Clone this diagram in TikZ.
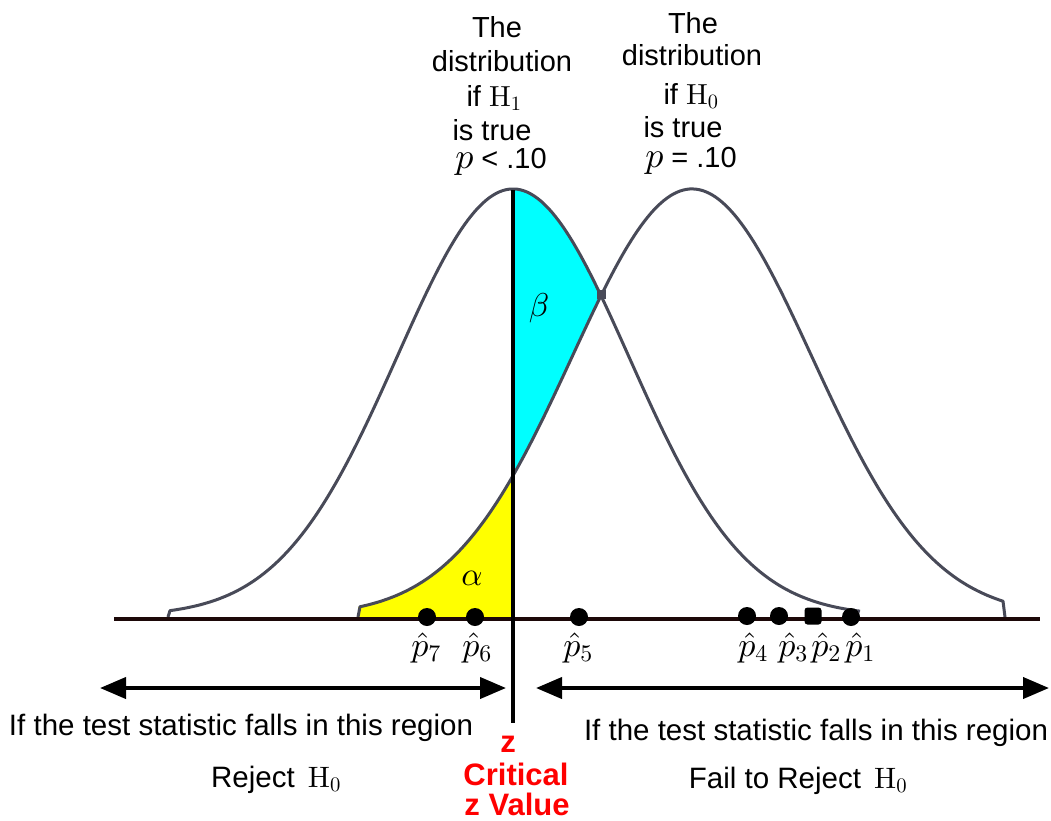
\documentclass[tikz,border=0pt]{standalone}
\usepackage[no-math]{fontspec}
\setmainfont{Liberation Sans}
\DeclareFontShape{OT1}{cmr}{m}{n}{<->cmr10}{}
\DeclareFontShape{OML}{cmm}{m}{it}{<->cmmi10}{}
\DeclareFontShape{OMS}{cmsy}{m}{n}{<->cmsy10}{}
\DeclareFontShape{OMX}{cmex}{m}{n}{<->cmex10}{}
\usetikzlibrary{arrows.meta}
\definecolor{curvecol}{RGB}{72,74,88}
\definecolor{axiscol}{RGB}{28,8,8}
\definecolor{betacol}{RGB}{0,255,255}
\definecolor{alphacol}{RGB}{255,255,0}
\definecolor{zred}{RGB}{255,0,0}
\newcommand{\bigp}{{\fontsize{36}{36}\selectfont$p$}}
\begin{document}
\begin{tikzpicture}[x=1pt,y=-1pt,
  declare function={
    gL(\t)=616-427*exp(-0.5*((\t-513)/116)*((\t-513)/116));
    gR(\t)=616-427*exp(-0.5*((\t-692)/120)*((\t-692)/120));
  },
  curve/.style={draw=curvecol,line width=3pt,line join=round},
  dotc/.style={circle,fill=black,inner sep=0pt,minimum size=18pt},
  dots/.style={rectangle,rounded corners=3pt,fill=black,inner sep=0pt,minimum size=17pt},
  toptxt/.style={anchor=base,inner sep=0pt,font=\fontsize{29}{34}\selectfont},
  bottxt/.style={anchor=base,inner sep=0pt,font=\fontsize{29.5}{34}\selectfont},
  redtxt/.style={anchor=base,inner sep=0pt,text=zred,font=\bfseries\fontsize{31}{34}\selectfont},
  plab/.style={anchor=base,inner sep=0pt,font=\fontsize{34}{36}\selectfont},
  greek/.style={inner sep=0pt,font=\fontsize{33}{34}\selectfont},
  arr/.style={line width=4pt,{Triangle[length=26pt,width=21pt]}-{Triangle[length=26pt,width=21pt]}},
]
\useasboundingbox (0,0) rectangle (1051,820);

% shaded regions
\fill[betacol] plot[domain=513:601,samples=50] (\x,{gL(\x)}) -- plot[domain=601:513,samples=50] (\x,{gR(\x)}) -- cycle;
\fill[alphacol] (358,617) -- plot[domain=358:513,samples=60] (\x,{gR(\x)}) -- (513,617) -- cycle;

% curves
\draw[curve] (168,617) -- plot[domain=170:860,samples=200] (\x,{gL(\x)});
\draw[curve] (358,617) -- plot[domain=360:1003,samples=200] (\x,{gR(\x)}) -- (1005,617);
\fill[curvecol] (596.5,289.5) rectangle (605.5,298.5);

% axis and critical line
\coordinate (axL) at (114,619);
\coordinate (axR) at (1040,619);
\coordinate (vT) at (513,190);
\coordinate (vB) at (513,723);
\draw[axiscol,line width=4pt] (axL) -- (axR);
\draw[black,line width=4pt] (vT) -- (vB);

% greek labels
\node[greek] (alpha) at (472,578) {$\alpha$};
\node[greek] (beta) at (539,308) {$\beta$};

% sample points
\node[dotc] (d7) at (427,617) {};
\node[dotc] (d6) at (475,617) {};
\node[dotc] (d5) at (579,617) {};
\node[dotc] (d4) at (747,616) {};
\node[dotc] (d3) at (779,616) {};
\node[dots] (d2) at (813,616) {};
\node[dotc] (d1) at (851,617) {};

\node[plab] (p7) at (426,656) {$\hat{p}_7$};
\node[plab] (p6) at (477,656) {$\hat{p}_6$};
\node[plab] (p5) at (578,656) {$\hat{p}_5$};
\node[plab] (p4) at (753,656) {$\hat{p}_4$};
\node[plab] (p3) at (793,656) {$\hat{p}_3$};
\node[plab] (p2) at (826,656) {$\hat{p}_2$};
\node[plab] (p1) at (860,656) {$\hat{p}_1$};

% top labels (H1)
\node[toptxt] (l1) at (497,37) {The};
\node[toptxt] (l2) at (502,71) {distribution};
\node[toptxt] (l3) at (494,106) {if $\mathrm{H}_1$};
\node[toptxt] (l4) at (492,140) {is true};
\node[toptxt] (l5) at (501,168) {\bigp{} < .10};
% top labels (H0)
\node[toptxt] (r1) at (693,33) {The};
\node[toptxt] (r2) at (692,65) {distribution};
\node[toptxt] (r3) at (691,104) {if $\mathrm{H}_0$};
\node[toptxt] (r4) at (683,137) {is true};
\node[toptxt] (r5) at (691,167) {\bigp{} = .10};

% arrows
\coordinate (aL1) at (100,688);
\coordinate (aL2) at (506,688);
\coordinate (aR1) at (536,688);
\coordinate (aR2) at (1049,688);
\draw[arr] (aL1) -- (aL2);
\draw[arr] (aR1) -- (aR2);

% bottom text
\node[bottxt] (bl1) at (241,735) {If the test statistic falls in this region};
\node[bottxt] (bl2) at (276,787) {Reject\, $\mathrm{H}_0$};
\node[bottxt] (br1) at (816,740) {If the test statistic falls in this region};
\node[bottxt] (br2) at (798,788) {Fail to Reject\, $\mathrm{H}_0$};

\node[redtxt] (z1) at (508,752) {z};
\node[redtxt] (z2) at (516,785) {Critical};
\node[redtxt] (z3) at (517,815) {z Value};
\end{tikzpicture}
\end{document}
